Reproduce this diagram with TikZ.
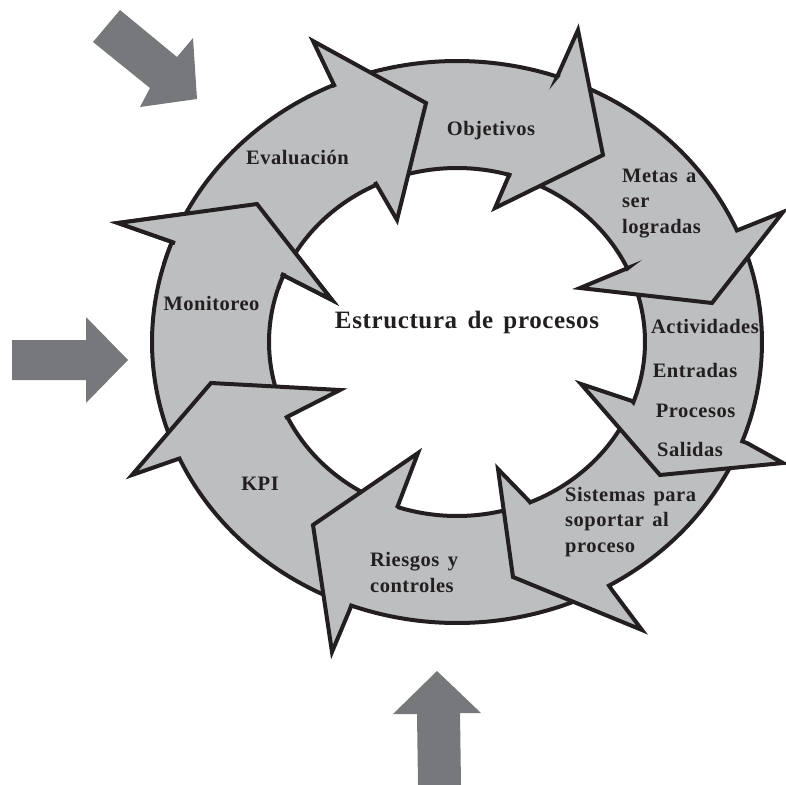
\documentclass[tikz,border=0pt]{standalone}
\usepackage{fontspec}
\setmainfont{Liberation Serif}
\newfontfamily\diagfont{Liberation Serif}[LetterSpace=2.5,WordSpace=1.5]

\definecolor{bandfill}{HTML}{BCBEC0}
\definecolor{bandline}{HTML}{231F20}
\definecolor{feedgray}{HTML}{77787B}
\definecolor{inktext}{HTML}{231F20}

% One curved piece of the ring: outer arc (#1 -> #2), the arrow head #5,
% then the inner arc back (#3 -> #4); the tail is hidden under the previous head.
\newcommand\bandpiece[5]{%
  \path[band] ([shift={(C)}]#1:305 and 281)
    arc[start angle=#1, end angle=#2, x radius=305, y radius=281]
    -- (#5on) -- (#5ob) -- (#5tip) -- (#5ib) -- (#5in)
    -- ([shift={(C)}]#3:188 and 174)
    arc[start angle=#3, end angle=#4, x radius=188, y radius=174] -- cycle;}

\begin{document}
\begin{tikzpicture}[x=1pt,y=-1pt,
  band/.style={fill=bandfill, draw=bandline, line width=4pt, line join=miter, miter limit=12},
  bandedge/.style={draw=bandline, line width=4pt, line join=miter, miter limit=12},
  feedarrow/.style={fill=feedgray},
  lbl/.style={font=\diagfont\bfseries\fontsize{20.5}{25.5}\selectfont, text=inktext, inner sep=0pt},
  headline/.style={font=\diagfont\bfseries\fontsize{25}{30}\selectfont, text=inktext, inner sep=0pt},
]
\useasboundingbox (0,0) rectangle (785,785);
\coordinate (C) at (457,342);

% arrow heads of the ring (outer neck, outer barb, tip, inner barb, inner neck)
\coordinate (h1on) at (335,87);  \coordinate (h1ob) at (313,41);  \coordinate (h1tip) at (426,103);
\coordinate (h1ib) at (397,220); \coordinate (h1in) at (375,182);
\coordinate (h2on) at (557,77);  \coordinate (h2ob) at (578,30);  \coordinate (h2tip) at (603,155);
\coordinate (h2ib) at (495,208); \coordinate (h2in) at (510,173);
\coordinate (h3on) at (738,230); \coordinate (h3ob) at (783,212); \coordinate (h3tip) at (712,303);
\coordinate (h3ib) at (580,288); \coordinate (h3in) at (628,268);
\coordinate (h4on) at (747,443); \coordinate (h4ob) at (783,463); \coordinate (h4tip) at (660,475);
\coordinate (h4ib) at (581,384); \coordinate (h4in) at (632,401);
\coordinate (h5on) at (612,590); \coordinate (h5ob) at (642,630); \coordinate (h5tip) at (513,577);
\coordinate (h5ib) at (498,469); \coordinate (h5in) at (530,502);
\coordinate (h6on) at (350,609); \coordinate (h6ob) at (332,652); \coordinate (h6tip) at (313,525);
\coordinate (h6ib) at (418,453); \coordinate (h6in) at (397,508);
\coordinate (h7on) at (178,459); \coordinate (h7ob) at (132,475); \coordinate (h7tip) at (211,383);
\coordinate (h7ib) at (340,390); \coordinate (h7in) at (285,418);
\coordinate (h8on) at (175,243); \coordinate (h8ob) at (118,223); \coordinate (h8tip) at (257,204);
\coordinate (h8ib) at (332,300); \coordinate (h8in) at (281,274);

% ring pieces, drawn so that every head lies over the next piece
\bandpiece{159.5}{200.8}{202.7}{158.5}{h8}   % Monitoreo
\bandpiece{114.3}{155.5}{154.5}{112.5}{h7}   % KPI
\bandpiece{64.1}{110.3}{108.5}{71.1}{h6}     % Riesgos y controles
\bandpiece{24.7}{60.1}{67.1}{24.3}{h5}       % Sistemas
\bandpiece{-19.4}{20.7}{20.3}{-21.0}{h4}     % Actividades
\bandpiece{-66.8}{-23.4}{-25.0}{-69.8}{h3}   % Metas
\bandpiece{-109.8}{-70.8}{-73.8}{-111.4}{h2} % Objetivos
\bandpiece{-155.2}{-113.8}{-115.4}{-153.3}{h1} % Evaluacion

% the Monitoreo head closes the cycle over the Evaluacion tail
\fill[bandfill] ([shift={(C)}]196:305 and 281)
  arc[start angle=196, end angle=200.8, x radius=305, y radius=281]
  -- (h8on) -- (h8ob) -- (h8tip) -- (h8ib) -- (h8in)
  -- ([shift={(C)}]202.7:188 and 174)
  arc[start angle=202.7, end angle=197.7, x radius=188, y radius=174] -- cycle;
\path[bandedge] ([shift={(C)}]196:305 and 281)
  arc[start angle=196, end angle=200.8, x radius=305, y radius=281]
  -- (h8on) -- (h8ob) -- (h8tip) -- (h8ib) -- (h8in)
  -- ([shift={(C)}]202.7:188 and 174)
  arc[start angle=202.7, end angle=197.7, x radius=188, y radius=174];

% incoming grey arrows
\fill[feedarrow] (120,10) -- (177,57) -- (193,38) -- (197,99) -- (140,107) -- (150,88) -- (93,42) -- cycle;
\fill[feedarrow] (12,340) -- (86,340) -- (86,317) -- (128,360) -- (86,403) -- (86,380) -- (12,380) -- cycle;
\fill[feedarrow] (437,671) -- (481,713) -- (460,713) -- (461,785) -- (418,785) -- (417,714) -- (393,714) -- cycle;

% labels (multi-line labels are placed by the baseline of their last line)
\node[lbl, anchor=base] (evaluacion) at (297.5,164) {Evaluación};
\node[lbl, anchor=base] (objetivos) at (491,135) {Objetivos};
\node[lbl, anchor=base west, align=left] (metas) at (622,233) {Metas a\\ser\\logradas};
\node[lbl, anchor=base] (actividades) at (705,333) {Actividades};
\node[lbl, anchor=base] (entradas) at (695,377) {Entradas};
\node[lbl, anchor=base] (procesos) at (695.5,417) {Procesos};
\node[lbl, anchor=base] (salidas) at (690,456) {Salidas};
\node[lbl, anchor=base west, align=left] (sistemas) at (565,552) {Sistemas para\\soportar al\\proceso};
\node[lbl, anchor=base west, align=left] (riesgos) at (370,592) {Riesgos y\\controles};
\node[lbl, anchor=base] (kpi) at (260,490) {KPI};
\node[lbl, anchor=base] (monitoreo) at (211.5,310) {Monitoreo};
\node[headline, anchor=base] (titulo) at (467,328) {Estructura de procesos};
\end{tikzpicture}
\end{document}
